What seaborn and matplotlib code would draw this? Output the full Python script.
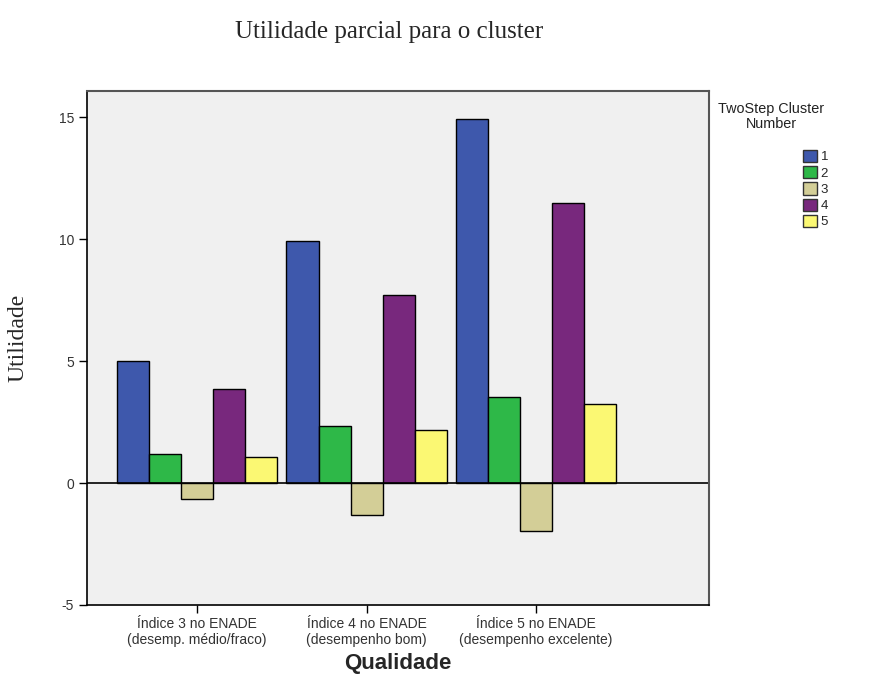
import pandas as pd
import matplotlib.pyplot as plt
import seaborn as sns
from matplotlib.patches import Patch

# values
categories = ['Índice 3 no ENADE\n(desemp. médio/fraco)',
              'Índice 4 no ENADE\n(desempenho bom)',
              'Índice 5 no ENADE\n(desempenho excelente)']
clusters = ['1', '2', '3', '4', '5']
cluster_1 = [4.99, 9.94, 14.93]
cluster_2 = [1.19, 2.33, 3.52]
cluster_3 = [-0.65, -1.31, -1.96]
cluster_4 = [3.84, 7.69, 11.49]
cluster_5 = [1.06, 2.17, 3.23]
colors = ['#3E58AC', '#2EB848', '#D3CE97', '#78287D', '#FBF873']

series = [cluster_1, cluster_2, cluster_3, cluster_4, cluster_5]
rows = []
for cl, vals in zip(clusters, series):
    for cat, v in zip(categories, vals):
        rows.append({'Qualidade': cat, 'Cluster': cl, 'Utilidade': v})
df = pd.DataFrame(rows)

sns.set_style('white')
plt.rcParams['font.family'] = ['Liberation Sans', 'DejaVu Sans']

fig = plt.figure(figsize=(8.93, 6.84), dpi=100)
ax = fig.add_axes([0.0969, 0.1155, 0.6971, 0.7515])
ax.set_facecolor('#F0F0F0')

sns.barplot(data=df, x='Qualidade', y='Utilidade', hue='Cluster',
            order=categories, hue_order=clusters, palette=colors,
            width=0.945, edgecolor='black', linewidth=1.0,
            errorbar=None, ax=ax, legend=False, saturation=1)

ax.axhline(0, color='black', linewidth=1.2, zorder=1)
ax.set_ylim(-5, 16.07)
ax.set_xlim(-0.652, 3.02)
ax.set_yticks([-5, 0, 5, 10, 15])
ax.set_yticklabels(['-5', '0', '5', '10', '15'])
ax.tick_params(axis='both', direction='out', length=6, width=1,
               colors='black', labelsize=10, labelcolor='#333333', pad=3)
ax.tick_params(axis='both', which='both', left=True, bottom=True)
plt.setp(ax.get_xticklabels(), linespacing=1.15)

for side in ['left', 'bottom']:
    ax.spines[side].set_color('black')
    ax.spines[side].set_linewidth(1.2)
for side in ['top', 'right']:
    ax.spines[side].set_color('#555555')
    ax.spines[side].set_linewidth(1.5)

ax.set_xlabel('Qualidade', fontsize=16, fontweight='bold', labelpad=4)
ax.set_ylabel('Utilidade', fontsize=17, family='Liberation Serif')
ax.yaxis.set_label_coords(-0.093, 0.52)

fig.text(0.436, 0.953, 'Utilidade parcial para o cluster', ha='center', va='center',
         fontsize=18, family='Liberation Serif')

fig.text(0.864, 0.83, 'TwoStep Cluster\nNumber', ha='center', va='center',
         fontsize=10.4, linespacing=1.05, color='#222222')
handles = [Patch(facecolor=c, edgecolor='#333333', linewidth=1.0) for c in colors]
fig.legend(handles, clusters, loc='upper left', bbox_to_anchor=(0.899, 0.781),
           frameon=False, fontsize=9.5, handlelength=1.05, handleheight=1.05,
           handletextpad=0.3, labelspacing=0.2, borderaxespad=0, borderpad=0)

plt.savefig('out.png', dpi=100)
